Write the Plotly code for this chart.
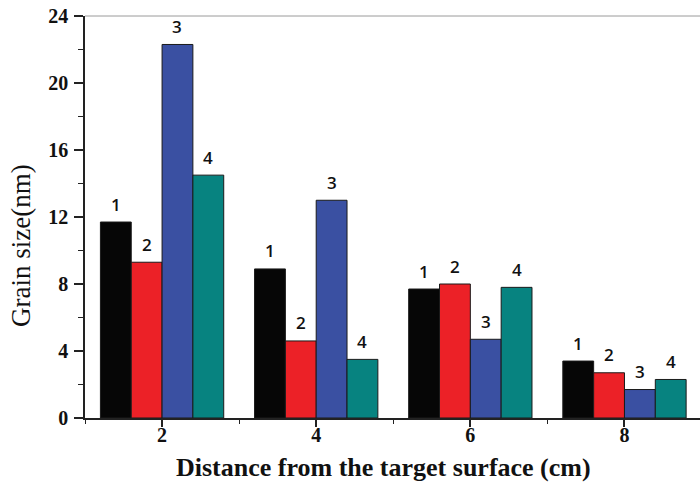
import plotly.graph_objects as go

# Distance from the target surface (cm)
distances = [2, 4, 6, 8]

# Grain size (nm) for samples 1-4 at each distance
sample_names = ["1", "2", "3", "4"]
grain_1 = [11.7, 8.9, 7.7, 3.4]
grain_2 = [9.3, 4.6, 8.0, 2.7]
grain_3 = [22.3, 13.0, 4.7, 1.7]
grain_4 = [14.5, 3.5, 7.8, 2.3]
series = [grain_1, grain_2, grain_3, grain_4]
colors = ["#060606", "#ec2127", "#3a50a2", "#078380"]

y_ticks = [0, 4, 8, 12, 16, 20, 24]
x_ticks = [2, 4, 6, 8]

bar_width = 0.4

fig = go.Figure()
for i, (name, vals, col) in enumerate(zip(sample_names, series, colors)):
    fig.add_trace(go.Bar(
        x=distances, y=vals, name=name,
        marker=dict(color=col, line=dict(color="#1a1a1a", width=1)),
        width=bar_width,
    ))

# Sample number labels above each bar
annotations = []
for i, (name, vals) in enumerate(zip(sample_names, series)):
    for d, v in zip(distances, vals):
        annotations.append(dict(
            x=d + (i - 1.5) * bar_width, y=v, xref="x", yref="y",
            text=name, showarrow=False, yanchor="middle", yshift=18,
            font=dict(family="Open Sans", size=17, color="#111111", weight=600),
        ))

# Axis titles
annotations.append(dict(
    text="Grain size(nm)", textangle=-90, showarrow=False,
    xref="paper", yref="paper", x=0, y=0.428, xanchor="center", yanchor="middle",
    xshift=-64, font=dict(family="Liberation Serif", size=27, color="#111111"),
))
annotations.append(dict(
    text="<b>Distance from the target surface (cm)</b>", showarrow=False,
    xref="paper", yref="paper", x=0.486, y=0, xanchor="center", yanchor="middle",
    yshift=-49, font=dict(family="Liberation Serif", size=26, color="#111111"),
))

fig.update_layout(
    width=700, height=487,
    margin=dict(l=85, r=0, t=16, b=69),
    paper_bgcolor="white", plot_bgcolor="white",
    barmode="group", bargap=0.2, bargroupgap=0,
    showlegend=False,
    annotations=annotations,
    shapes=[dict(type="line", xref="paper", yref="paper", x0=0, x1=1, y0=1, y1=1,
                 line=dict(color="#9a9a9a", width=1))],
    xaxis=dict(
        range=[1, 8.98], tickvals=x_ticks, ticktext=["<b>%d</b>" % t for t in x_ticks],
        showline=True, linecolor="#222222", linewidth=1.5,
        ticks="outside", ticklen=7, tickwidth=1.5, tickcolor="#222222",
        minor=dict(dtick=1, tick0=1, ticks="outside", ticklen=4, tickwidth=1.2, tickcolor="#222222"),
        showgrid=False, zeroline=False, ticklabelstandoff=-9,
        tickfont=dict(family="Liberation Serif", size=20, color="#111111"),
    ),
    yaxis=dict(
        range=[0, 24], tickvals=y_ticks, ticktext=["<b>%d</b>" % t for t in y_ticks],
        showline=True, linecolor="#222222", linewidth=1.5,
        ticks="outside", ticklen=9, tickwidth=1.5, tickcolor="#222222",
        minor=dict(dtick=2, tick0=0, ticks="outside", ticklen=5, tickwidth=1.2, tickcolor="#222222"),
        showgrid=False, zeroline=False, ticklabelstandoff=2,
        tickfont=dict(family="Liberation Serif", size=20, color="#111111"),
    ),
)

fig.write_html("out.html")
